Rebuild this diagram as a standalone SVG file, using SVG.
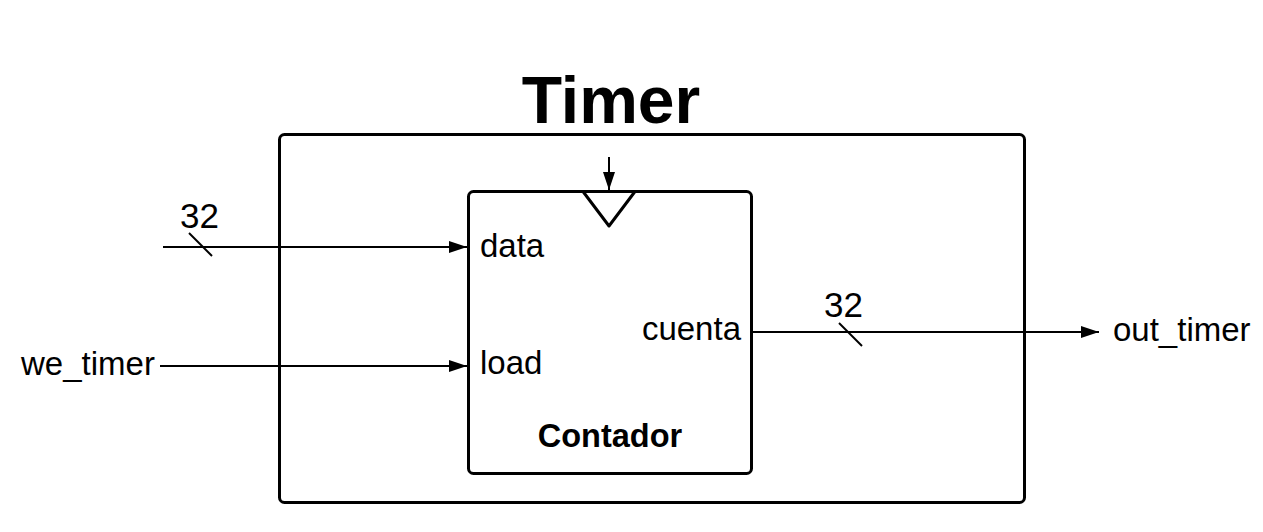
<svg xmlns="http://www.w3.org/2000/svg" width="1263" height="532" viewBox="0 0 1263 532">
<style>
.box{fill:none;stroke:#000;stroke-width:3;stroke-linejoin:round}
.ln{fill:none;stroke:#000;stroke-width:2}
.t{font-family:"Liberation Sans",Arial,sans-serif;font-size:33px;fill:#000}
.n{font-family:"Liberation Sans",Arial,sans-serif;font-size:35px;fill:#000}
.b{font-family:"Liberation Sans",Arial,sans-serif;font-weight:bold;fill:#000}
</style>
<defs>
<marker id="arr" viewBox="0 0 18 12" refX="18" refY="6" markerWidth="18" markerHeight="12" markerUnits="userSpaceOnUse" orient="auto">
<path d="M0,0 L18,6 L0,12 Z" fill="#000"/>
</marker>
</defs>
<rect width="1263" height="532" fill="#fff"/>
<g id="timer">
<rect class="box" x="279.5" y="134.5" width="745" height="368" rx="5"/>
<text class="b" x="611" y="123" font-size="66" text-anchor="middle">Timer</text>
</g>
<g id="contador">
<rect class="box" x="468.5" y="191.5" width="283" height="282" rx="5"/>
<path class="box" d="M583,191.5 L635,191.5 L609,226 Z" fill="#fff" stroke-width="3.5"/>
<text class="t" x="480" y="257">data</text>
<text class="t" x="480" y="374">load</text>
<text class="t" x="741" y="340" text-anchor="end">cuenta</text>
<text class="b" x="610" y="447" font-size="32.5" text-anchor="middle">Contador</text>
</g>
<g id="connectors">
<line class="ln" x1="163" y1="247" x2="467" y2="247" marker-end="url(#arr)"/>
<line class="ln" x1="189" y1="233" x2="212" y2="256"/>
<text class="n" x="180" y="228">32</text>
<line class="ln" x1="160" y1="366" x2="467" y2="366" marker-end="url(#arr)"/>
<text class="t" x="21" y="375">we_timer</text>
<line class="ln" x1="752" y1="332" x2="1099" y2="332" marker-end="url(#arr)"/>
<line class="ln" x1="839" y1="323" x2="862" y2="346"/>
<text class="n" x="824" y="317">32</text>
<text class="t" x="1113" y="341">out_timer</text>
<line class="ln" x1="609" y1="157" x2="609" y2="190" marker-end="url(#arr)"/>
</g>
</svg>
